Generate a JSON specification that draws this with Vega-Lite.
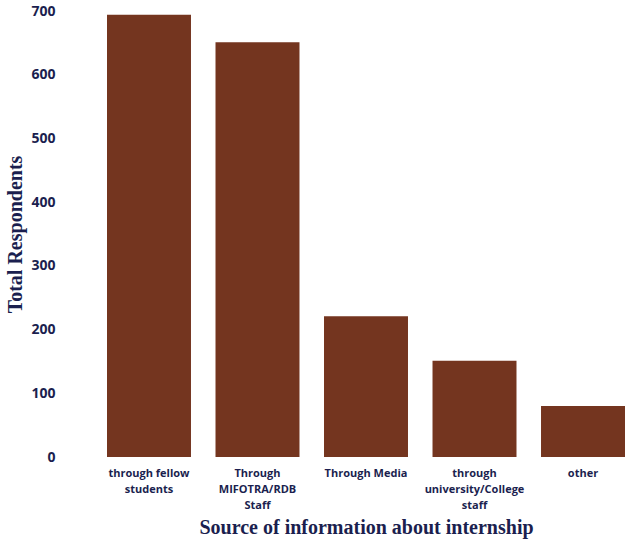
{
  "$schema": "https://vega.github.io/schema/vega-lite/v6.json",
  "width": 518,
  "height": 446,
  "autosize": {"type": "none"},
  "padding": {"left": 107, "top": 11, "right": 6, "bottom": 84},
  "background": "white",
  "config": {"view": {"stroke": null}},
  "data": {
    "values": [
      {"source": "through fellow\nstudents", "order": 1, "respondents": 694},
      {"source": "Through\nMIFOTRA/RDB\nStaff", "order": 2, "respondents": 651},
      {"source": "Through Media", "order": 3, "respondents": 221},
      {"source": "through\nuniversity/College\nstaff", "order": 4, "respondents": 151},
      {"source": "other", "order": 5, "respondents": 80}
    ]
  },
  "mark": {"type": "bar", "color": "#74351f"},
  "encoding": {
    "x": {
      "field": "source",
      "type": "nominal",
      "sort": {"field": "order"},
      "scale": {"paddingInner": 0.226, "paddingOuter": 0},
      "axis": {
        "title": "Source of information about internship",
        "titleFont": "Liberation Serif",
        "titleFontSize": 20,
        "titleFontWeight": "bold",
        "titleColor": "#1b1f4f",
        "titlePadding": 7,
        "labelExpr": "split(datum.label, '\\n')",
        "labelAngle": 0,
        "labelFont": "Open Sans",
        "labelFontSize": 11,
        "labelFontWeight": "bold",
        "labelColor": "#1b1f4f",
        "labelLineHeight": 16,
        "labelPadding": 10,
        "labelBaseline": "top",
        "domain": false,
        "ticks": false
      }
    },
    "y": {
      "field": "respondents",
      "type": "quantitative",
      "scale": {"domain": [0, 700]},
      "axis": {
        "title": "Total Respondents",
        "titleFont": "Liberation Serif",
        "titleFontSize": 20,
        "titleFontWeight": "bold",
        "titleColor": "#1b1f4f",
        "titleX": -92,
        "titleY": 223,
        "titleBaseline": "middle",
        "values": [0, 100, 200, 300, 400, 500, 600, 700],
        "labelFont": "Open Sans",
        "labelFontSize": 14,
        "labelFontWeight": "bold",
        "labelColor": "#1b1f4f",
        "labelPadding": 52,
        "domain": false,
        "ticks": false,
        "grid": false
      }
    }
  }
}
